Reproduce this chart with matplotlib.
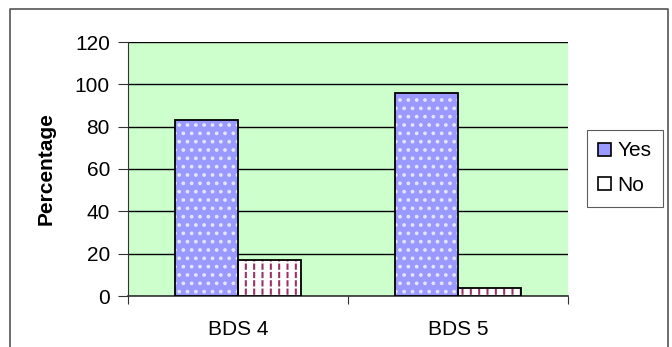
import matplotlib
matplotlib.use("Agg")
import matplotlib.pyplot as plt
from matplotlib.lines import Line2D
from matplotlib.patches import Patch
import numpy as np

categories = ["BDS 4", "BDS 5"]
yes_values = [83, 96]
no_values = [17, 4]
y_ticks = [0, 20, 40, 60, 80, 100, 120]

plt.rcParams["font.family"] = ["Liberation Sans", "DejaVu Sans"]
plt.rcParams["hatch.linewidth"] = 1.5
FS = 15

fig = plt.figure(figsize=(6.72, 3.47), dpi=100)
ax = fig.add_axes([128 / 672, 1 - 296 / 347, 440 / 672, 254 / 347])
ax.set_facecolor("#CCFFCC")

x = np.arange(len(categories))
w = 0.286

# Yes bars: periwinkle fill with a fine light dot pattern, black outline
ax.bar(x - w / 2, yes_values, w, color="#9999FF", edgecolor="#E4E4FF",
       hatch="..", linewidth=0, zorder=3)
ax.bar(x - w / 2, yes_values, w, fill=False, edgecolor="black",
       linewidth=1.3, zorder=5)
# No bars: white fill with dark red vertical dashes, black outline
ax.bar(x + w / 2, no_values, w, color="white", edgecolor="#993366",
       hatch="||", linewidth=0, zorder=3)
ax.bar(x + w / 2, no_values, w, fill=False, edgecolor="white",
       hatch="--", linewidth=0, zorder=4)
ax.bar(x + w / 2, no_values, w, fill=False, edgecolor="black",
       linewidth=1.3, zorder=5)

ax.set_xlim(-0.5, 1.5)
ax.set_ylim(0, 120)
ax.set_yticks(y_ticks)
ax.set_yticklabels([str(v) for v in y_ticks], fontsize=FS)
ax.yaxis.grid(True, color="black", linewidth=1.0, zorder=1)
ax.set_axisbelow(True)

ax.set_xticks([-0.5, 0.5, 1.5])
ax.set_xticklabels(["", "", ""])
ax.set_xticks(x, minor=True)
ax.set_xticklabels(categories, minor=True, fontsize=FS)
ax.tick_params(axis="x", which="minor", length=0, pad=17)
ax.tick_params(axis="x", which="major", length=6, width=0.8, color="#333333")
ax.tick_params(axis="y", length=7, width=0.8, pad=6, color="#333333")

for s in ["top", "right"]:
    ax.spines[s].set_visible(False)
ax.spines["left"].set_color("#333333")
ax.spines["bottom"].set_color("#333333")
ax.spines["bottom"].set_linewidth(1.2)

ax.set_ylabel("Percentage", fontsize=FS, fontweight="bold", labelpad=14)

handles = [Patch(facecolor="#9999FF", edgecolor="black", linewidth=1.2),
           Patch(facecolor="white", edgecolor="black", linewidth=1.2)]
leg = fig.legend(handles, ["Yes", "No"], loc="upper left",
                 bbox_to_anchor=(587 / 672, 1 - 130 / 347), fontsize=FS,
                 frameon=True, fancybox=False, edgecolor="#333333",
                 handlelength=0.6, handleheight=0.6, handletextpad=0.3,
                 labelspacing=0.75, borderpad=0.55, borderaxespad=0)
leg.get_frame().set_linewidth(0.8)

# Outer chart frame
fx0, fx1 = 10 / 672, 668 / 672
fy1 = 1 - 9 / 347
fig.add_artist(Line2D([fx0, fx0, fx1, fx1], [0, fy1, fy1, 0],
                      transform=fig.transFigure, color="#555555", linewidth=1.2))

fig.savefig("out.png", dpi=100)
